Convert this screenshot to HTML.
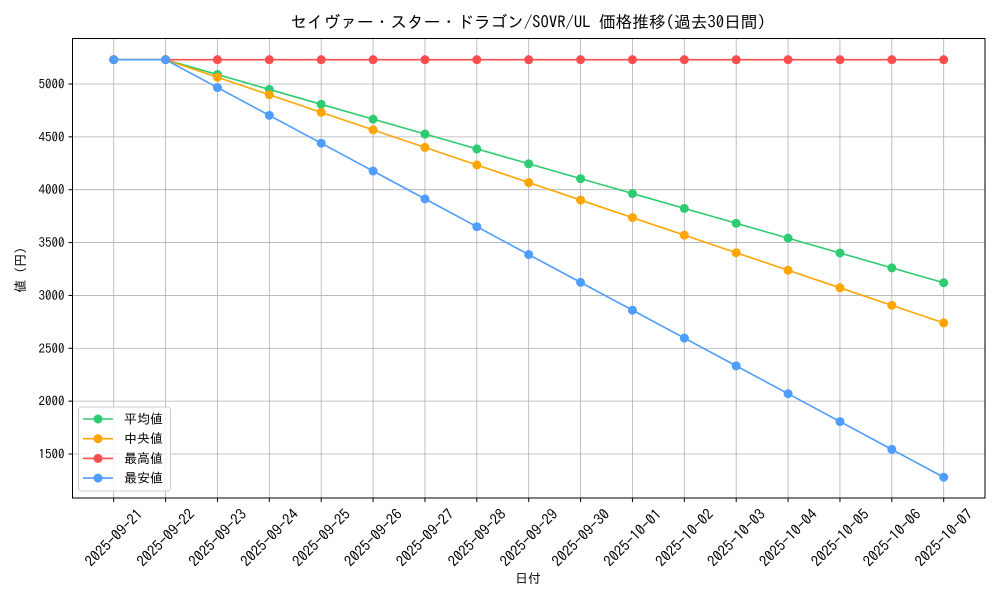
<!DOCTYPE html>
<html><head><meta charset="utf-8"><style>
body{margin:0;background:#fff}
svg{display:block;font-family:"IPAGothic","Noto Sans CJK JP",sans-serif}
</style></head><body>
<svg id="s" width="1000" height="600" xmlns="http://www.w3.org/2000/svg">
<rect width="1000" height="600" fill="#fff"/>
<text x="528" y="28" text-anchor="middle" font-size="16.7" fill="#000">セイヴァー・スター・ドラゴン/SOVR/UL 価格推移(過去30日間)</text>
<text x="528" y="583" text-anchor="middle" font-size="13">日付</text>
<text transform="translate(25,270) rotate(-90)" text-anchor="middle" font-size="13">値 (円)</text>
<g id="g"></g>
</svg>
<script>
const g=document.getElementById('g');let h='';
const L=72.5,R=985,T=38.5,B=498;
const X=i=>113.7+i*51.875, Y=v=>84+(5000-v)*0.10571;
for(let i=0;i<17;i++){const x=X(i);h+=`<line x1="${x}" y1="${T}" x2="${x}" y2="${B}" stroke="#b0b0b0" stroke-width="0.8"/><line x1="${x}" y1="${B}" x2="${x}" y2="${B+4}" stroke="#000"/>`;
const d=new Date(Date.UTC(2025,8,21+i));const s=d.toISOString().slice(0,10);
h+=`<text transform="translate(${x},537.5) rotate(-45)" text-anchor="middle" dominant-baseline="central" font-size="14.8">${s}</text>`;}
for(let v=1500;v<=5000;v+=500){const y=Y(v);h+=`<line x1="${L}" y1="${y}" x2="${R}" y2="${y}" stroke="#b0b0b0" stroke-width="0.8"/><line x1="${L-4}" y1="${y}" x2="${L}" y2="${y}" stroke="#000"/><text x="${L-8}" y="${y+4.5}" text-anchor="end" font-size="13">${v}</text>`;}
h+=`<rect x="${L}" y="${T}" width="${R-L}" height="${B-T}" fill="none" stroke="#000" stroke-width="1"/>`;
const ser=[["#ff4d4d",i=>5230],["#2ecc71",i=>i<1?5230:5230-(i-1)*140.67],["#ffa500",i=>i<1?5230:5230-(i-1)*166],["#4f9dff",i=>i<1?5230:5230-(i-1)*263.33]];
const order=[ser[1],ser[2],ser[0],ser[3]];
for(const [c,f] of order){let p='';let dots='';for(let i=0;i<17;i++){p+=(i?'L':'M')+X(i)+','+Y(f(i));dots+=`<circle cx="${X(i)}" cy="${Y(f(i))}" r="4.5" fill="${c}"/>`;}h+=`<path d="${p}" fill="none" stroke="${c}" stroke-width="1.6"/>`+dots;}
h+=`<rect x="78.5" y="407" width="92" height="84" rx="3" fill="#fff" fill-opacity="0.8" stroke="#ccc"/>`;
const lab=[["#2ecc71","平均値"],["#ffa500","中央値"],["#ff4d4d","最高値"],["#4f9dff","最安値"]];
lab.forEach(([c,t],k)=>{const y=419+k*19.7;h+=`<line x1="83" y1="${y}" x2="113" y2="${y}" stroke="${c}" stroke-width="1.6"/><circle cx="98" cy="${y}" r="4.5" fill="${c}"/><text x="124" y="${y+4.5}" font-size="13">${t}</text>`;});
g.innerHTML=h;
</script>
</body></html>
